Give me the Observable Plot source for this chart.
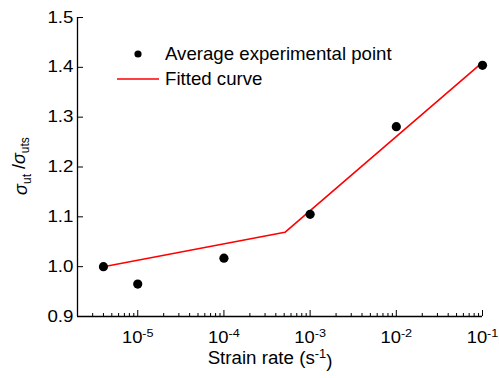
<!DOCTYPE html>
<html>
<head>
<meta charset="utf-8">
<script src="https://cdn.jsdelivr.net/npm/d3@7"></script>
<script src="https://cdn.jsdelivr.net/npm/@observablehq/plot@0.6"></script>
<style>
  html, body { margin: 0; padding: 0; background: #fff; }
  svg text { font-family: "Liberation Sans", Arial, sans-serif; }
</style>
</head>
<body>
<div id="chart"></div>
<script>
// Average experimental points
const strainRates = [4e-6, 1e-5, 1e-4, 1e-3, 1e-2, 1e-1];
const ratios = [1.0, 0.965, 1.017, 1.105, 1.281, 1.404];
// Fitted curve (piecewise linear in log strain rate)
const fitRates = [4e-6, 5.1e-4, 1e-1];
const fitRatios = [1.0, 1.069, 1.41];
// Axis ticks
const xMajorTicks = [1e-5, 1e-4, 1e-3, 1e-2, 1e-1];
const xMinorTicks = [];
for (let e = -6; e <= -2; e++) for (let m = 2; m <= 9; m++) {
  const v = m * Math.pow(10, e);
  if (v >= 2e-6 && v <= 1e-1) xMinorTicks.push(v);
}
const yTicks = [0.9, 1.0, 1.1, 1.2, 1.3, 1.4, 1.5];
const legendLabels = ["Average experimental point", "Fitted curve"];

const points = strainRates.map((x, i) => ({x, y: ratios[i]}));
const fit = fitRates.map((x, i) => ({x, y: fitRatios[i]}));

const W = 499, H = 378;
const chart = Plot.plot({
  width: W, height: H,
  marginLeft: 77, marginRight: 17, marginTop: 17, marginBottom: 62,
  style: {fontFamily: "Liberation Sans, Arial, sans-serif", fontSize: "16px", color: "#000", background: "#fff"},
  x: {type: "log", domain: [2e-6, 1e-1]},
  y: {domain: [0.9, 1.5]},
  marks: [
    Plot.axisY({ticks: yTicks, tickSize: -6, tickFormat: d3.format(".1f"), tickPadding: 10, label: null, fontSize: 16}),
    Plot.axisX({ticks: xMajorTicks, tickSize: -6, tickFormat: d => "10" + Math.round(Math.log10(d)), tickPadding: 10, label: null, fontSize: 16}),
    Plot.axisX({ticks: xMinorTicks, tickSize: -3, tickFormat: () => "", label: null}),
    Plot.ruleX([2e-6], {stroke: "#000", strokeWidth: 1.3}),
    Plot.ruleY([0.9], {stroke: "#000", strokeWidth: 1.3}),
    Plot.line(fit, {x: "x", y: "y", stroke: "#ff0000", strokeWidth: 1.6}),
    Plot.dot(points, {x: "x", y: "y", r: 4.6, fill: "#000", stroke: "none"})
  ]
});
document.getElementById("chart").appendChild(chart);

const svg = d3.select(chart);

// widen glyphs horizontally around the text's anchor point (local coordinates)
function stretch(el, sx, anchor, dy) {
  const b = el.getBBox();
  const ax = anchor === "end" ? b.x + b.width : anchor === "middle" ? b.x + b.width / 2 : b.x;
  const tr = el.getAttribute("transform") || "";
  el.setAttribute("transform", `translate(0,${dy || 0}) ${tr} translate(${ax},0) scale(${sx},1) translate(${-ax},0)`);
}

// y tick labels
svg.selectAll("g[aria-label='y-axis tick label'] text").each(function() {
  stretch(this, 1.17, "end", 0);
});

// superscript exponents on x tick labels
svg.selectAll("g[aria-label='x-axis tick label'] text").each(function() {
  const t = d3.select(this);
  const s = t.text();
  if (s.length <= 2) { t.remove(); return; }
  const exp = s.slice(2);
  t.text(null);
  t.append("tspan").text("10");
  t.append("tspan").attr("dy", "-0.5em").attr("font-size", "11px").text(exp);
  stretch(this, 1.15, "middle", 11);
});

// y-axis label
const yl = svg.append("text")
  .attr("transform", "translate(27,166) rotate(-90)")
  .attr("text-anchor", "middle")
  .attr("font-size", 18)
  .attr("fill", "#000");
yl.append("tspan").attr("font-style", "italic").text("σ");
yl.append("tspan").attr("font-size", 12).attr("dy", "0.35em").text("ut");
yl.append("tspan").attr("dy", "-0.35em").text(" /");
yl.append("tspan").attr("font-style", "italic").text("σ");
yl.append("tspan").attr("font-size", 12).attr("dy", "0.35em").text("uts");

// x-axis label
const xl = svg.append("text")
  .attr("transform", "translate(270,364) scale(1.07,1)")
  .attr("text-anchor", "middle")
  .attr("font-size", 17.5)
  .attr("fill", "#000");
xl.append("tspan").text("Strain rate (s");
xl.append("tspan").attr("dy", "-0.5em").attr("font-size", 12).text("-1");
xl.append("tspan").attr("dy", "0.5em").text(")");

// legend
const lg = svg.append("g").attr("text-anchor", "start");
lg.append("circle").attr("cx", 138).attr("cy", 54).attr("r", 3.6).attr("fill", "#000");
lg.append("text").attr("transform", "translate(165,54) scale(1.066,1)").attr("dy", "0.35em").attr("font-size", 17.5).text(legendLabels[0]);
lg.append("line").attr("x1", 117).attr("x2", 159).attr("y1", 79).attr("y2", 79).attr("stroke", "#ff0000").attr("stroke-width", 1.6);
lg.append("text").attr("transform", "translate(165,79) scale(1.066,1)").attr("dy", "0.35em").attr("font-size", 17.5).text(legendLabels[1]);
</script>
</body>
</html>
